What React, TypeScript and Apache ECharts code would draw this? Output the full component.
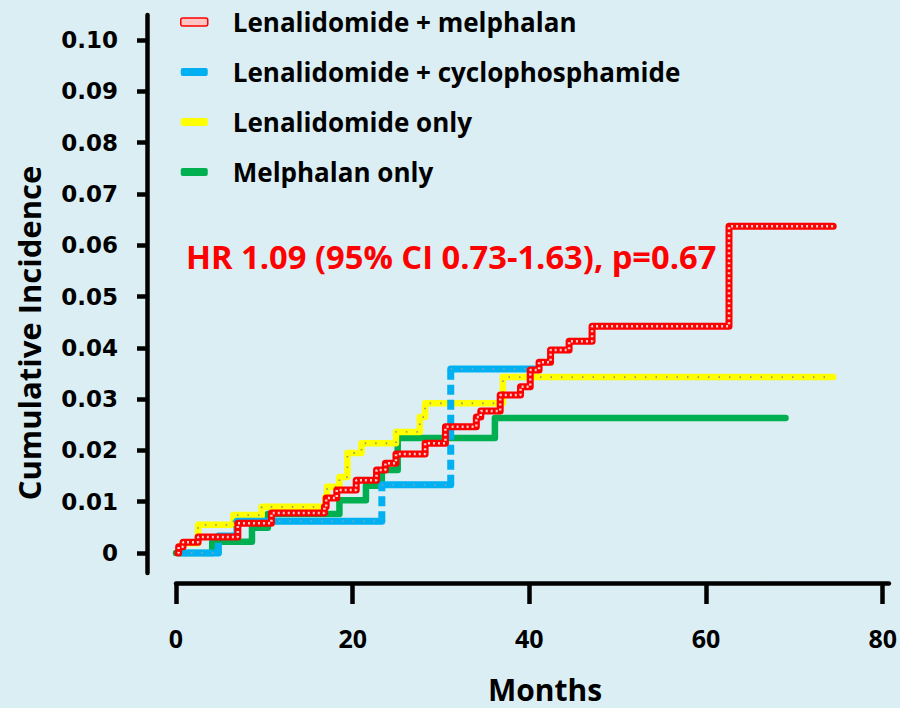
import React, { useEffect, useRef } from "react";
import * as echarts from "echarts";

// ---- data (months, cumulative incidence) ----
const RED_NAME = "Lenalidomide + melphalan";
const BLUE_NAME = "Lenalidomide + cyclophosphamide";
const YELLOW_NAME = "Lenalidomide only";
const GREEN_NAME = "Melphalan only";

const redStart = 0.2;
const redTimes = [0.3, 0.8, 2.5, 7.0, 10.8, 16.8, 17.0, 18.2, 20.4, 22.7, 23.7, 24.9, 28.2, 30.5, 34.0, 34.5, 36.7, 39.0, 40.1, 41.1, 42.4, 44.5, 47.1, 62.6];
const redValues = [0.0012, 0.0021, 0.0031, 0.0058, 0.0078, 0.009, 0.0107, 0.0123, 0.0142, 0.0162, 0.0175, 0.0193, 0.0214, 0.0246, 0.0265, 0.0277, 0.0308, 0.0324, 0.0357, 0.0372, 0.0396, 0.0413, 0.0442, 0.0637];
const redEnd = 74.4;

const blueStart = 0.5;
const blueTimes = [4.8, 6.9, 23.3, 31.1];
const blueValues = [0.0033, 0.0062, 0.0133, 0.0359];
const blueEnd = 40.6;

const yellowStart = 0.5;
const yellowTimes = [0.7, 2.5, 6.5, 9.7, 16.9, 17.1, 18.5, 19.4, 21.0, 24.9, 27.6, 28.2, 37.0];
const yellowValues = [0.0019, 0.0055, 0.0074, 0.009, 0.0109, 0.0129, 0.0148, 0.0195, 0.0214, 0.0236, 0.0265, 0.0292, 0.0343];
const yellowEnd = 74.4;

const greenStart = 0;
const greenTimes = [4.1, 8.6, 10.4, 18.5, 21.5, 23.3, 25.1, 36.1];
const greenValues = [0.0022, 0.0049, 0.0076, 0.0103, 0.0131, 0.0162, 0.0224, 0.0263];
const greenEnd = 69.0;

const xTicks = [0, 20, 40, 60, 80];
const yTicks = [0, 0.01, 0.02, 0.03, 0.04, 0.05, 0.06, 0.07, 0.08, 0.09, 0.1];
const yTickLabels = ["0", "0.01", "0.02", "0.03", "0.04", "0.05", "0.06", "0.07", "0.08", "0.09", "0.10"];

const hrText = "HR 1.09 (95% CI 0.73-1.63), p=0.67";

// ---- helpers to build step curves ----
function stepPoints(start: number, times: number[], values: number[], end: number) {
  const pts: any[] = [[start, 0]];
  let prev = 0;
  times.forEach((t, i) => {
    pts.push([t, prev]);
    pts.push([t, values[i]]);
    prev = values[i];
  });
  pts.push([end, prev]);
  return pts;
}
function horizontalPieces(start: number, times: number[], values: number[], end: number) {
  const pts: any[] = [];
  const bounds = [start, ...times, end];
  const levels = [0, ...values];
  for (let i = 0; i < levels.length; i++) {
    pts.push([bounds[i], levels[i]]);
    pts.push([bounds[i + 1], levels[i]]);
    pts.push([bounds[i + 1], "-"]);
  }
  return pts;
}
function verticalPieces(times: number[], values: number[]) {
  const pts: any[] = [];
  let prev = 0;
  times.forEach((t, i) => {
    pts.push([t, prev]);
    pts.push([t, values[i]]);
    pts.push([t, "-"]);
    prev = values[i];
  });
  return pts;
}

const RED = "#ff0000";
const BLUE = "#00b0f0";
const YELLOW = "#ffff00";
const GREEN = "#00b050";
const BG = "#daeef4";
const SANS = "'Open Sans', 'Noto Sans', sans-serif";

export default function App() {
  const ref = useRef<HTMLDivElement>(null);
  useEffect(() => {
    if (!ref.current) return;
    const chart = echarts.init(ref.current, undefined, { renderer: "svg" });
    const base = { type: "line", showSymbol: false, symbol: "none", silent: true, connectNulls: false };
    const option: any = {
      animation: false,
      backgroundColor: BG,
      grid: { left: 176, right: 5, top: 15, bottom: 135, containLabel: false },
      legend: {
        orient: "vertical",
        left: 180,
        top: 7,
        padding: 0,
        itemWidth: 27,
        itemHeight: 8,
        itemGap: 20,
        selectedMode: false,
        textStyle: { fontSize: 26, fontWeight: "bold", fontFamily: SANS, color: "#000", padding: [0, 0, 0, 20], lineHeight: 30 },
        data: [
          { name: RED_NAME, icon: "roundRect", itemStyle: { color: "#ffc4c4", borderColor: RED, borderWidth: 1.5 } },
          { name: BLUE_NAME, icon: "roundRect", itemStyle: { color: BLUE, borderWidth: 0 } },
          { name: YELLOW_NAME, icon: "roundRect", itemStyle: { color: YELLOW, borderWidth: 0 } },
          { name: GREEN_NAME, icon: "roundRect", itemStyle: { color: GREEN, borderWidth: 0 } },
        ],
      },
      xAxis: {
        type: "value",
        min: 0,
        max: 80.7,
        offset: 10,
        axisLine: { show: true, onZero: false, lineStyle: { color: "#000", width: 4.5 } },
        axisTick: { show: true, customValues: xTicks, length: 21, lineStyle: { color: "#000", width: 4.5 } },
        axisLabel: { customValues: xTicks, margin: 42, fontSize: 25, fontWeight: "bold", fontFamily: SANS, color: "#000" },
        splitLine: { show: false },
      },
      yAxis: {
        type: "value",
        min: -0.0039,
        max: 0.1049,
        offset: 29,
        axisLine: { show: true, onZero: false, lineStyle: { color: "#000", width: 4.5 } },
        axisTick: { show: true, customValues: yTicks, length: 10, lineStyle: { color: "#000", width: 4.5 } },
        axisLabel: {
          customValues: yTicks,
          margin: 29,
          fontSize: 23,
          fontWeight: "bold",
          fontFamily: "'DejaVu Sans', sans-serif",
          color: "#000",
          formatter: (v: number) => {
            const i = yTicks.findIndex((t) => Math.abs(t - v) < 1e-9);
            return i >= 0 ? yTickLabels[i] : "";
          },
        },
        splitLine: { show: false },
      },
      graphic: [
        {
          type: "text",
          x: 29,
          y: 333,
          rotation: Math.PI / 2,
          style: { text: "Cumulative Incidence", font: `bold 31px ${SANS}`, fill: "#000", align: "center", verticalAlign: "middle" },
        },
        {
          type: "text",
          x: 545,
          y: 689,
          style: { text: "Months", font: `bold 30px ${SANS}`, fill: "#000", align: "center", verticalAlign: "middle" },
        },
        {
          type: "text",
          x: 186,
          y: 256,
          style: { text: hrText, font: `bold 32.7px ${SANS}`, fill: RED, align: "left", verticalAlign: "middle" },
        },
      ],
      series: [
        {
          ...base,
          name: GREEN_NAME,
          data: stepPoints(greenStart, greenTimes, greenValues, greenEnd),
          lineStyle: { color: GREEN, width: 6.5, cap: "round", join: "round" },
          itemStyle: { color: GREEN },
        },
        {
          ...base,
          name: YELLOW_NAME,
          data: stepPoints(yellowStart, yellowTimes, yellowValues, yellowEnd),
          lineStyle: { color: YELLOW, width: 6.5, cap: "round", join: "round" },
          itemStyle: { color: YELLOW },
        },
        {
          ...base,
          name: "yellow dots",
          data: stepPoints(yellowStart, yellowTimes, yellowValues, yellowEnd),
          lineStyle: { color: "#9a9a70", width: 1.8, type: [1.5, 9], cap: "butt" },
        },
        {
          ...base,
          name: BLUE_NAME,
          data: horizontalPieces(blueStart, blueTimes, blueValues, blueEnd),
          lineStyle: { color: BLUE, width: 7, cap: "round", join: "round" },
          itemStyle: { color: BLUE },
        },
        {
          ...base,
          name: "blue verticals",
          data: verticalPieces(blueTimes, blueValues),
          lineStyle: { color: BLUE, width: 7, type: [10, 5], cap: "butt" },
        },
        {
          ...base,
          name: "blue dots",
          data: horizontalPieces(blueStart, blueTimes, blueValues, blueEnd),
          lineStyle: { color: "#7aa6bf", width: 1.8, type: [1.5, 9], cap: "butt" },
        },
        {
          ...base,
          name: RED_NAME,
          data: stepPoints(redStart, redTimes, redValues, redEnd),
          lineStyle: { color: RED, width: 7, cap: "round", join: "round" },
          itemStyle: { color: RED },
        },
        {
          ...base,
          name: "red rings",
          data: stepPoints(redStart, redTimes, redValues, redEnd),
          lineStyle: { color: "#ffcccc", width: 2.5, type: [2, 3], cap: "butt" },
        },
      ],
    };
    chart.setOption(option);
    return () => chart.dispose();
  }, []);
  return <div ref={ref} style={{ position: "fixed", left: 0, top: 0, width: 900, height: 708 }} />;
}
